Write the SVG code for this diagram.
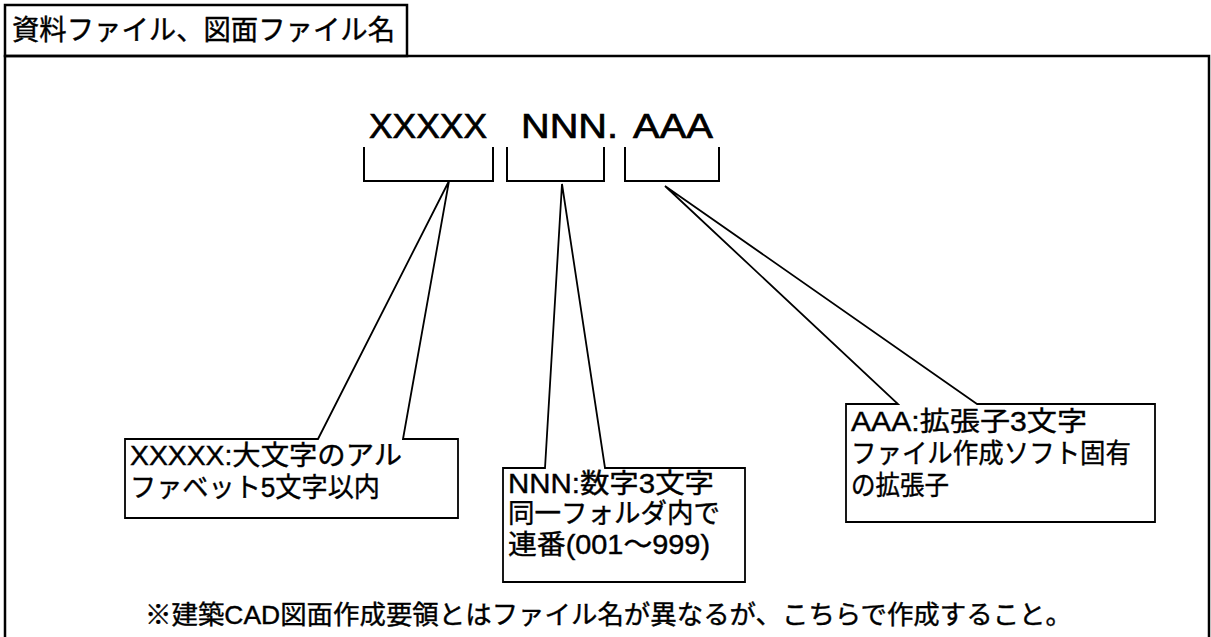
<svg xmlns="http://www.w3.org/2000/svg" width="1211" height="637" viewBox="0 0 1211 637">
<style>
.frame{fill:none;stroke:#000;stroke-width:2.5}
.br{fill:none;stroke:#000;stroke-width:2}
.co{fill:#fff;stroke:#000;stroke-width:1.8;stroke-linejoin:miter}
text{font-family:"Liberation Sans","Noto Sans CJK JP",sans-serif;fill:#000;stroke:#000;stroke-width:0.4}
.t27{font-size:27px}
.t26{font-size:26px}
.big{font-size:35px;stroke-width:0.7}
.title{font-size:28px}
</style>
<rect width="1211" height="637" fill="#fff"/>
<g id="frame">
<rect class="frame" x="5" y="56" width="1204" height="590"/>
<rect class="frame" x="5" y="5" width="402" height="51"/>
<text class="title" x="12" y="40" textLength="383" lengthAdjust="spacingAndGlyphs">資料ファイル、図面ファイル名</text>
</g>
<g id="filename">
<text class="big" x="369" y="138" textLength="118" lengthAdjust="spacingAndGlyphs">XXXXX</text>
<text class="big" x="521" y="138" textLength="97" lengthAdjust="spacingAndGlyphs">NNN.</text>
<text class="big" x="633" y="138" textLength="80" lengthAdjust="spacingAndGlyphs">AAA</text>
</g>
<g id="connectors">
<path class="br" d="M364,147 V181 H493 V147"/>
<path class="br" d="M507,147 V181 H604 V147"/>
<path class="br" d="M625,147 V181 H719 V147"/>
</g>
<g id="node-xxxxx">
<path class="co" d="M403,439 L449,181 L318,439 H125 V518 H458 V439 Z"/>
<text class="t27" x="130" y="465" textLength="272" lengthAdjust="spacingAndGlyphs">XXXXX:大文字のアル</text>
<text class="t27" x="130" y="497" textLength="250" lengthAdjust="spacingAndGlyphs">ファベット5文字以内</text>
</g>
<g id="node-nnn">
<path class="co" d="M605,468 L562,184 L545,468 H503 V582 H745 V468 Z"/>
<text class="t27" x="508" y="493" textLength="206" lengthAdjust="spacingAndGlyphs">NNN:数字3文字</text>
<text class="t27" x="508" y="523" textLength="212" lengthAdjust="spacingAndGlyphs">同一フォルダ内で</text>
<text class="t27" x="508" y="554" textLength="202" lengthAdjust="spacingAndGlyphs">連番(001～999)</text>
</g>
<g id="node-aaa">
<path class="co" d="M977,404 L665,186 L898,404 H846 V522 H1155 V404 Z"/>
<text class="t27" x="851" y="431" textLength="236" lengthAdjust="spacingAndGlyphs">AAA:拡張子3文字</text>
<text class="t27" x="851" y="463" textLength="280" lengthAdjust="spacingAndGlyphs">ファイル作成ソフト固有</text>
<text class="t27" x="851" y="495" textLength="98" lengthAdjust="spacingAndGlyphs">の拡張子</text>
</g>
<g id="note">
<text class="t26" x="145" y="624" textLength="927" lengthAdjust="spacingAndGlyphs">※建築CAD図面作成要領とはファイル名が異なるが、こちらで作成すること。</text>
</g>
</svg>
